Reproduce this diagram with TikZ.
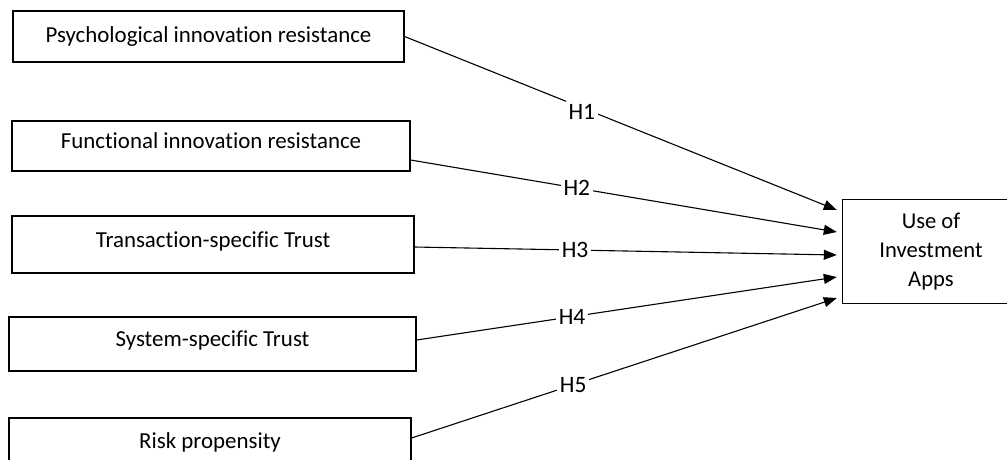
\documentclass[tikz,border=0pt]{standalone}
\usepackage{fontspec}
\setmainfont{Carlito}[Ligatures=NoCommon]
\usetikzlibrary{arrows.meta}

\begin{document}
\begin{tikzpicture}[x=1pt,y=-1pt,
    box/.style={draw, rectangle, line width=1.2pt, inner sep=0pt, text height=16pt, text depth=10.6pt, font=\fontsize{22.9}{27}\selectfont},
    target/.style={rectangle, inner sep=0pt, align=center, font=\fontsize{22.6}{29}\selectfont},
    hyp/.style={-{Triangle[length=13pt,width=10pt]}, line width=1.1pt},
    hlabel/.style={fill=white, inner sep=3pt, font=\fontsize{23.5}{27}\selectfont}]
    \useasboundingbox (0,0) rectangle (1007,459);

    % Predictors
    \node[box, text depth=3.6pt, minimum width=391pt, minimum height=51pt] (psy) at (208.5,36.5) {Psychological innovation resistance};
    \node[box, minimum width=398pt, minimum height=50pt] (func) at (211,146) {Functional innovation resistance};
    \node[box, minimum width=402pt, minimum height=57pt] (trans) at (213,244.5) {Transaction-specific Trust};
    \node[box, minimum width=407pt, minimum height=54pt] (sys) at (212.5,344) {System-specific Trust};
    \node[box, minimum width=402pt, minimum height=56pt] (risk) at (210,446) {Risk propensity};

    % Outcome (box runs off the right edge)
    \node[target, minimum width=176pt, minimum height=103pt] (use) at (931,251.5) {Use of\\Investment\\Apps};
    \draw[line width=1.2pt] ([xshift=40pt]use.north east) -- (use.north west) -- (use.south west) -- ([xshift=40pt]use.south east);

    % Hypotheses
    \draw[hyp] (psy.east) -- node[hlabel, pos=0.41, yshift=-4pt] (h1) {H1} ([xshift=-6pt,yshift=41.5pt]use.west);
    \draw[hyp] ([yshift=-14pt]func.east) -- node[hlabel, pos=0.39] (h2) {H2} ([xshift=-6pt,yshift=19.5pt]use.west);
    \draw[hyp] ([yshift=-2.5pt]trans.east) -- node[hlabel, pos=0.38] (h3) {H3} ([xshift=-6pt,yshift=-3.5pt]use.west);
    \draw[hyp] ([yshift=4pt]sys.east) -- node[hlabel, pos=0.37] (h4) {H4} ([xshift=-6pt,yshift=-25.5pt]use.west);
    \draw[hyp] ([yshift=8pt]risk.east) -- node[hlabel, pos=0.38] (h5) {H5} ([xshift=-6pt,yshift=-46.5pt]use.west);
\end{tikzpicture}
\end{document}
